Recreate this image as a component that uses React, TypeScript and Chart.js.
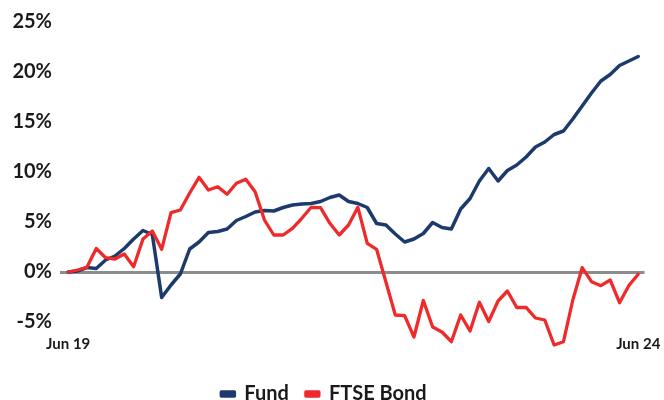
import React, { useEffect, useRef } from "react";
import { Chart, registerables } from "chart.js";

Chart.register(...registerables);

const seriesNames = ["Fund", "FTSE Bond"];

const fundValues = [
  0, 0.1, 0.45, 0.35, 1.2, 1.6, 2.35, 3.3, 4.15, 3.75,
  -2.55, -1.3, -0.2, 2.3, 3.0, 3.95, 4.05, 4.3, 5.15, 5.55,
  6.0, 6.15, 6.1, 6.45, 6.7, 6.8, 6.85, 7.05, 7.45, 7.7,
  7.05, 6.85, 6.45, 4.85, 4.7, 3.8, 3.0, 3.3, 3.85, 4.95,
  4.45, 4.3, 6.3, 7.35, 9.1, 10.35, 9.1, 10.15, 10.7, 11.5,
  12.5, 13.0, 13.75, 14.1, 15.3, 16.6, 17.9, 19.1, 19.75, 20.65,
  21.1, 21.55,
];

const bondValues = [
  0, 0.2, 0.47, 2.35, 1.43, 1.3, 1.8, 0.53, 3.3, 4.1,
  2.27, 5.93, 6.2, 7.9, 9.47, 8.2, 8.53, 7.77, 8.87, 9.27,
  8.03, 5.2, 3.7, 3.7, 4.37, 5.37, 6.47, 6.43, 4.87, 3.7,
  4.7, 6.47, 2.87, 2.27, -1.0, -4.3, -4.37, -6.5, -2.85, -5.5,
  -6.0, -6.97, -4.3, -5.9, -3.03, -4.95, -2.9, -1.9, -3.55, -3.53,
  -4.6, -4.8, -7.3, -6.97, -2.8, 0.43, -0.97, -1.37, -0.8, -3.07,
  -1.35, -0.23,
];

const xTickIndex = [0, 61];
const xTickLabels = ["Jun 19", "Jun 24"];
const yTickValues = [-5, 0, 5, 10, 15, 20, 25];

const FONT = "Lato, 'Open Sans', sans-serif";
const TEXT = "#1a1a1a";

export default function App() {
  const ref = useRef<HTMLCanvasElement | null>(null);

  useEffect(() => {
    document.body.style.margin = "0";
    document.body.style.overflow = "hidden";
    const canvas = ref.current;
    if (!canvas) return;
    const chart = new Chart(canvas, {
      type: "line",
      data: {
        datasets: [
          {
            label: seriesNames[0],
            data: fundValues.map((y, i) => ({ x: i, y })),
            borderColor: "#1c3a6b",
            backgroundColor: "#1c3a6b",
            borderWidth: 3.5,
            pointRadius: 0,
            tension: 0,
            borderJoinStyle: "round",
            borderCapStyle: "round",
            clip: false,
            order: 1,
          },
          {
            label: seriesNames[1],
            data: bondValues.map((y, i) => ({ x: i, y })),
            borderColor: "#ee2a2a",
            backgroundColor: "#ee2a2a",
            borderWidth: 3.3,
            pointRadius: 0,
            tension: 0,
            borderJoinStyle: "round",
            borderCapStyle: "round",
            clip: false,
            order: 0,
          },
        ],
      },
      options: {
        animation: false,
        responsive: false,
        maintainAspectRatio: false,
        layout: { padding: { top: 22, right: 16, left: 0, bottom: 0 } },
        plugins: {
          tooltip: { enabled: false },
          legend: {
            position: "bottom",
            labels: {
              font: { family: FONT, size: 20, weight: "bold" },
              color: TEXT,
              boxWidth: 13,
              boxHeight: 4,
              padding: 17,
              sort: (a: any, b: any) => a.datasetIndex - b.datasetIndex,
            },
          },
        },
        scales: {
          x: {
            type: "linear",
            min: -0.88,
            max: 61.67,
            grid: { display: false, drawTicks: false },
            border: { display: false },
            afterBuildTicks: (axis: any) => {
              axis.ticks = xTickIndex.map((v) => ({ value: v }));
            },
            afterFit: (axis: any) => {
              axis.height = 35;
            },
            ticks: {
              autoSkip: false,
              maxRotation: 0,
              padding: 3.5,
              color: TEXT,
              font: { family: FONT, size: 15, weight: "bold" },
              callback: (v: any) => {
                const k = xTickIndex.indexOf(Number(v));
                return k >= 0 ? xTickLabels[k] : "";
              },
            },
          },
          y: {
            min: -6,
            max: 25,
            border: { display: false },
            grid: {
              drawTicks: false,
              color: (ctx: any) => (ctx.tick && ctx.tick.value === 0 ? "#8c8c8c" : "rgba(0,0,0,0)"),
              lineWidth: (ctx: any) => (ctx.tick && ctx.tick.value === 0 ? 3 : 0),
            },
            afterBuildTicks: (axis: any) => {
              axis.ticks = yTickValues.map((v) => ({ value: v }));
            },
            afterFit: (axis: any) => {
              axis.width = 60;
            },
            ticks: {
              padding: 8,
              color: TEXT,
              font: { family: FONT, size: 20, weight: "bold" },
              callback: (v: any) => `${v}%`,
            },
          },
        },
      },
    });
    return () => chart.destroy();
  }, []);

  return (
    <div style={{ width: 664, height: 414 }}>
      <canvas ref={ref} width={664} height={414} style={{ display: "block" }} />
    </div>
  );
}
